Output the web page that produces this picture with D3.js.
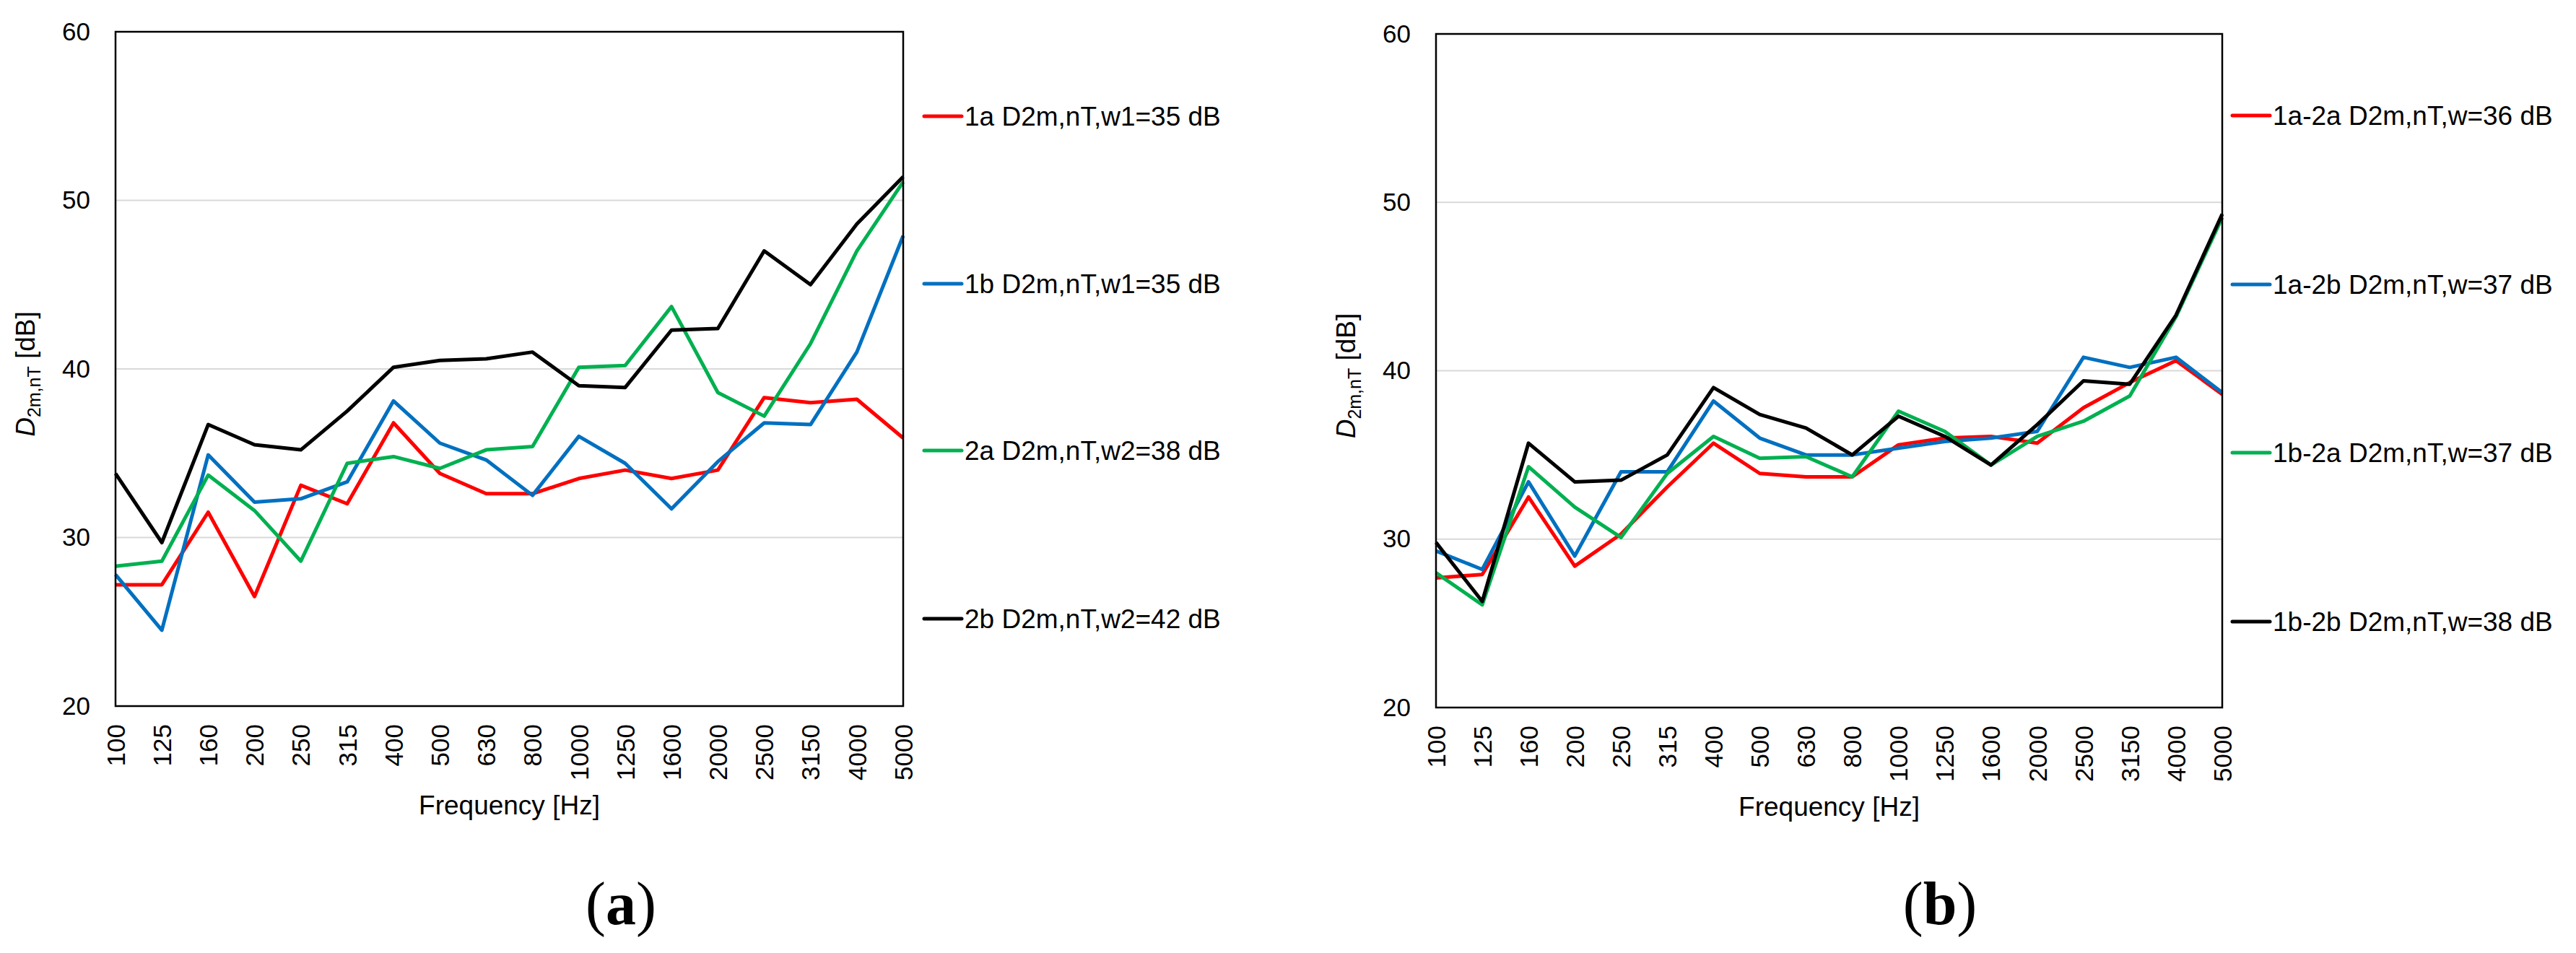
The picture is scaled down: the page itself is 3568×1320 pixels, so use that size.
<!DOCTYPE html>
<html>
<head>
<meta charset="utf-8">
<script src="https://cdn.jsdelivr.net/npm/d3@7"></script>
<style>
  body { margin: 0; background: #fff; }
  svg { display: block; }
  text { font-family: "Liberation Sans", Arial, sans-serif; fill: #000; }
</style>
</head>
<body>
<svg id="here"></svg>
<script>
// frequency bands (x categories)
const freqs = ["100","125","160","200","250","315","400","500","630","800","1000","1250","1600","2000","2500","3150","4000","5000"];
const yTicks = [20, 30, 40, 50, 60];

// panel (a)
const namesA = ["1a D2m,nT,w1=35 dB", "1b D2m,nT,w1=35 dB", "2a D2m,nT,w2=38 dB", "2b D2m,nT,w2=42 dB"];
const a1a = [27.2, 27.2, 31.5, 26.5, 33.1, 32.0, 36.8, 33.8, 32.6, 32.6, 33.5, 34.0, 33.5, 34.0, 38.3, 38.0, 38.2, 35.9];
const a1b = [27.8, 24.5, 34.9, 32.1, 32.3, 33.3, 38.1, 35.6, 34.6, 32.5, 36.0, 34.4, 31.7, 34.5, 36.8, 36.7, 41.0, 47.9];
const a2a = [28.3, 28.6, 33.7, 31.6, 28.6, 34.4, 34.8, 34.1, 35.2, 35.4, 40.1, 40.2, 43.7, 38.6, 37.2, 41.5, 47.0, 51.1];
const a2b = [33.8, 29.7, 36.7, 35.5, 35.2, 37.5, 40.1, 40.5, 40.6, 41.0, 39.0, 38.9, 42.3, 42.4, 47.0, 45.0, 48.6, 51.4];

// panel (b)
const namesB = ["1a-2a D2m,nT,w=36 dB", "1a-2b D2m,nT,w=37 dB", "1b-2a D2m,nT,w=37 dB", "1b-2b D2m,nT,w=38 dB"];
const b1a2a = [27.7, 27.9, 32.5, 28.4, 30.3, 33.1, 35.7, 33.9, 33.7, 33.7, 35.6, 36.0, 36.1, 35.7, 37.8, 39.3, 40.6, 38.6];
const b1a2b = [29.3, 28.2, 33.4, 29.0, 34.0, 34.0, 38.2, 36.0, 35.0, 35.0, 35.4, 35.8, 36.0, 36.4, 40.8, 40.2, 40.8, 38.7];
const b1b2a = [28.0, 26.1, 34.3, 31.9, 30.1, 33.9, 36.1, 34.8, 34.9, 33.7, 37.6, 36.4, 34.4, 36.1, 37.0, 38.5, 43.2, 49.1];
const b1b2b = [29.8, 26.3, 35.7, 33.4, 33.5, 35.0, 39.0, 37.4, 36.6, 35.0, 37.3, 36.1, 34.4, 36.8, 39.4, 39.2, 43.3, 49.3];

const colors = ["#ff0000", "#0070c0", "#00b050", "#000000"];

const width = 3568, height = 1320;
const svg = d3.select("#here").attr("width", width).attr("height", height);

function panel(o) {
  const x = d3.scalePoint().domain(freqs).range([o.left, o.right]);
  const y = d3.scaleLinear().domain([20, 60]).range([o.bottom, o.top]);
  const g = svg.append("g");

  // gridlines
  g.selectAll(".grid")
    .data(yTicks.filter(d => d > 20 && d < 60))
    .enter().append("line")
    .attr("x1", o.left).attr("x2", o.right)
    .attr("y1", d => y(d)).attr("y2", d => y(d))
    .attr("stroke", "#d9d9d9").attr("stroke-width", 2);

  // y axis
  g.append("g")
    .attr("transform", `translate(${o.left},0)`)
    .call(d3.axisLeft(y).tickValues(yTicks).tickSize(0).tickPadding(35))
    .call(s => s.select(".domain").remove())
    .selectAll("text")
    .style("font-size", "35px")
    .style("font-family", "Liberation Sans, Arial, sans-serif");

  // x axis
  g.append("g")
    .attr("transform", `translate(0,${o.bottom})`)
    .call(d3.axisBottom(x).tickSize(0))
    .call(s => s.select(".domain").remove())
    .selectAll("text")
    .attr("transform", "rotate(-90)")
    .attr("x", -25).attr("y", 0).attr("dy", "0.35em")
    .attr("text-anchor", "end")
    .style("font-size", "35px")
    .style("font-family", "Liberation Sans, Arial, sans-serif");

  // series
  const line = d3.line()
    .x((d, i) => x(freqs[i]))
    .y(d => y(d));
  g.selectAll(".series")
    .data(o.series)
    .enter().append("path")
    .attr("fill", "none")
    .attr("stroke", (d, i) => colors[i])
    .attr("stroke-width", 5)
    .attr("stroke-linejoin", "round")
    .attr("d", line);

  // plot border
  g.append("rect")
    .attr("x", o.left).attr("y", o.top)
    .attr("width", o.right - o.left).attr("height", o.bottom - o.top)
    .attr("fill", "none").attr("stroke", "#000").attr("stroke-width", 2.5);

  // axis titles
  g.append("text")
    .attr("x", (o.left + o.right) / 2).attr("y", o.bottom + 150)
    .attr("text-anchor", "middle")
    .style("font-size", "37px")
    .text("Frequency [Hz]");

  const yt = g.append("text")
    .attr("transform", `translate(${o.left - 112},${(o.top + o.bottom) / 2 + 7}) rotate(-90)`)
    .attr("text-anchor", "middle")
    .style("font-size", "37px");
  yt.append("tspan").style("font-style", "italic").text("D");
  yt.append("tspan").style("font-size", "25px").attr("dy", 8).text("2m,nT");
  yt.append("tspan").attr("dy", -8).text(" [dB]");

  // legend
  const lg = g.selectAll(".leg")
    .data(o.names)
    .enter().append("g")
    .attr("transform", (d, i) => `translate(${o.legX},${o.legY[i]})`);
  lg.append("line")
    .attr("x1", 0).attr("x2", 52)
    .attr("stroke", (d, i) => colors[i])
    .attr("stroke-width", 5)
    .attr("stroke-linecap", "round");
  lg.append("text")
    .attr("x", 56).attr("dy", "0.35em")
    .style("font-size", "37px")
    .text(d => d);

  // caption
  const cap = svg.append("text")
    .attr("x", o.capX).attr("y", 1280)
    .attr("text-anchor", "middle")
    .style("font-family", "Liberation Serif, Times New Roman, serif")
    .style("font-size", "84px");
  cap.append("tspan").text("(");
  cap.append("tspan").style("font-weight", "bold").text(o.cap);
  cap.append("tspan").text(")");
}

panel({
  left: 160, right: 1251, top: 44, bottom: 978,
  series: [a1a, a1b, a2a, a2b], names: namesA,
  legX: 1280, legY: [161, 393, 624, 857],
  capX: 860, cap: "a"
});

panel({
  left: 1989, right: 3078, top: 47, bottom: 980,
  series: [b1a2a, b1a2b, b1b2a, b1b2b], names: namesB,
  legX: 3092, legY: [160, 394, 627, 861],
  capX: 2687, cap: "b"
});
</script>
</body>
</html>
